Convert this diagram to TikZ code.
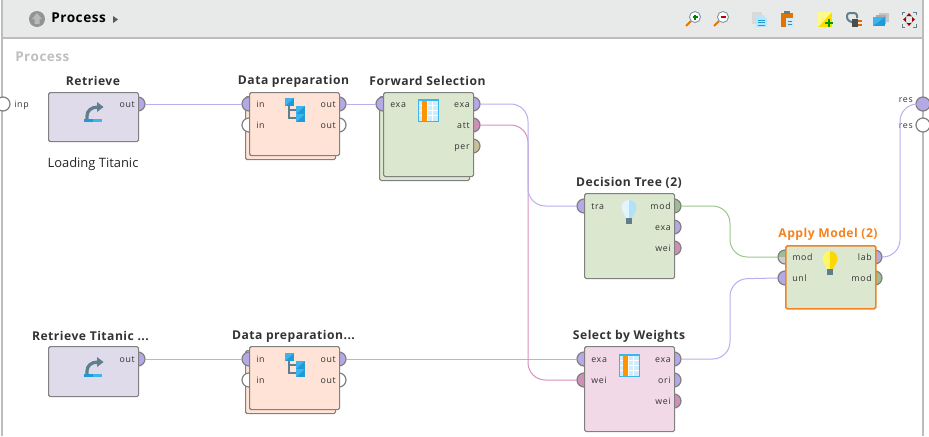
\documentclass[tikz,border=0pt]{standalone}
\usepackage{fontspec}
\setmainfont{Open Sans}
\newfontfamily\titlefont[LetterSpace=4]{Open Sans}
\newfontfamily\portfont[LetterSpace=8]{Open Sans}
\usetikzlibrary{arrows.meta}

\definecolor{barcol}{HTML}{E8EAEA}
\definecolor{framecol}{HTML}{BDBDBD}
\definecolor{edgecol}{HTML}{808080}
\definecolor{retrievecol}{HTML}{DFDBEA}
\definecolor{prepcol}{HTML}{FEE3D6}
\definecolor{modelcol}{HTML}{DBE8CF}
\definecolor{selectcol}{HTML}{F1D9E8}
\definecolor{exacol}{HTML}{B5A8E6}
\definecolor{weicol}{HTML}{D08FB9}
\definecolor{modcol}{HTML}{9DBD92}
\definecolor{percol}{HTML}{C8C09A}
\definecolor{exaline}{HTML}{B9AEEE}
\definecolor{weiline}{HTML}{D88FC0}
\definecolor{modline}{HTML}{9CC48F}
\definecolor{activecol}{HTML}{F58220}
\definecolor{iconblue}{HTML}{1E9AD6}
\definecolor{iconsky}{HTML}{3CB4EE}
\definecolor{icongray}{HTML}{5F7F8C}

% icons, drawn at the top left corner they are given
\newcommand{\retrieveicon}[2]{
  \begin{scope}[shift={(#1,#2)}]
    \fill[iconblue] (0,14) rectangle (9,17);
    \fill[iconsky] (9,14) rectangle (18,17);
    \draw[icongray, line width=2.4pt] (3,14) -- (3,11) .. controls (3,6) and (7,2) .. (14,2);
    \fill[icongray] (13,-3) -- (19.5,2) -- (13,7) -- cycle;
  \end{scope}
}
\newcommand{\treeicon}[2]{
  \begin{scope}[shift={(#1,#2)}]
    \draw[icongray, line width=0.9pt] (4,8) -- (4,20) -- (11,20) (4,12) -- (11,12);
    \fill[iconblue] (0,0) rectangle (9,8);
    \fill[iconblue] (11,8) rectangle (20,16);
    \fill[iconblue] (11,16) rectangle (20,24);
    \fill[iconsky] (0,0) -- (9,0) -- (0,8) -- cycle;
    \fill[iconsky] (11,8) -- (20,8) -- (11,16) -- cycle;
    \fill[iconsky] (11,16) -- (20,16) -- (11,24) -- cycle;
  \end{scope}
}
\newcommand{\tableicon}[2]{
  \begin{scope}[shift={(#1,#2)}]
    \fill[iconsky!25] (0,0) rectangle (20,22);
    \draw[white, line width=0.5pt] (0,6) -- (20,6) (0,11) -- (20,11) (0,16) -- (20,16) (9,0) -- (9,22) (14,0) -- (14,22);
    \fill[orange!85!yellow] (4,0) rectangle (9,22);
    \draw[iconsky, line width=0.6pt] (0,0) rectangle (20,22);
    \fill[iconsky] (0,0) rectangle (20,2);
  \end{scope}
}
\newcommand{\bulbicon}[4]{
  \begin{scope}[shift={(#1,#2)}]
    \fill[#3] (0,0) arc (-90:-270:7.5) -- cycle;
    \fill[#3] (-6.5,11) -- (-3,18) -- (0,18) -- (0,11) -- cycle;
    \fill[#4] (0,0) arc (-90:90:7.5) -- cycle;
    \fill[#4] (6.5,11) -- (3,18) -- (0,18) -- (0,11) -- cycle;
    \fill[icongray] (-3,18) rectangle (3,24);
  \end{scope}
}
\newcommand{\lensicon}[2]{
  \begin{scope}[shift={(#1,#2)}]
    \draw[orange!90!black, line width=1.5pt] (-4,4) -- (-9,9);
    \draw[icongray!80, fill=white, line width=0.7pt] (0,0) circle (5.5);
  \end{scope}
}

\begin{document}
\begin{tikzpicture}[
    x=0.75pt, y=-0.75pt,
    opbox/.style={draw=edgecol, line width=0.9pt, rounded corners=1.2pt, anchor=north west,
      inner sep=0pt, minimum width=90*0.75pt},
    port/.style={circle, draw=edgecol, line width=0.9pt, fill=white, inner sep=0pt, minimum size=14*0.75pt},
    optitle/.style={font=\titlefont\bfseries\fontsize{9.1pt}{10pt}\selectfont, text=black!80, inner sep=0pt},
    inlabel/.style={font=\portfont\fontsize{6.6pt}{8pt}\selectfont, text=black!80, anchor=west, inner sep=0pt,
      text height=5pt, text depth=0pt},
    outlabel/.style={font=\portfont\fontsize{6.6pt}{8pt}\selectfont, text=black!80, anchor=east, inner sep=0pt,
      text height=5pt, text depth=0pt},
    exaedge/.style={draw=exaline, line width=0.75pt, rounded corners=13pt},
    weiedge/.style={draw=weiline, line width=0.75pt, rounded corners=13pt},
    modedge/.style={draw=modline, line width=0.75pt, rounded corners=13pt}
  ]
  \useasboundingbox (0,0) rectangle (929,436);

  % toolbar and frame
  \fill[barcol] (2,0) rectangle (923,38);
  \draw[framecol, line width=0.9pt] (2,38) -- (923,38);
  \draw[framecol, line width=0.9pt] (2,0) -- (2,436);
  \draw[framecol, line width=0.9pt] (923,0) -- (923,436);
  \fill[gray!85] (37,19) circle (8);
  \fill[gray!55] (37,13) -- (42,19) -- (39.5,19) -- (39.5,24) -- (34.5,24) -- (34.5,19) -- (32,19) -- cycle;
  \node[optitle, anchor=west, text=black, font=\titlefont\bfseries\fontsize{10.2pt}{11pt}\selectfont] (barTitle) at (51,18) {Process};
  \fill[black!65] (113,16) -- (118,19.5) -- (113,23) -- cycle;
  \node[optitle, anchor=west, text=black!25, font=\titlefont\bfseries\fontsize{10.1pt}{11pt}\selectfont] (processTitle) at (15,57) {Process};

  % toolbar icons
  \lensicon{695}{17}
  \draw[green!50!black, line width=0.8pt] (692.5,17) -- (697.5,17) (695,14.5) -- (695,19.5);
  \lensicon{723}{17}
  \draw[red!75!black, line width=0.8pt] (720.5,17) -- (725.5,17);
  \fill[gray!30] (752,12) rectangle (762,24);
  \fill[iconsky!35] (756,15) -- (763,15) -- (767,19) -- (767,27) -- (756,27) -- cycle;
  \draw[iconblue, line width=0.5pt] (758,20) -- (765,20) (758,22.5) -- (765,22.5) (758,25) -- (765,25);
  \fill[orange!90!black] (781,13) rectangle (793,27);
  \fill[icongray] (784,11) rectangle (790,14);
  \fill[iconsky!25] (786,18) rectangle (794,27);
  \draw[icongray, line width=0.4pt] (788,21) -- (792,21) (788,24) -- (792,24);
  \fill[yellow!80!orange] (818,12) rectangle (832,27);
  \fill[yellow!45] (818,27) -- (832,12) -- (818,12) -- cycle;
  \draw[green!60!black, line width=1.4pt] (829,19) -- (829,27) (825,23) -- (833,23);
  \draw[icongray, line width=1.5pt, rounded corners=2pt] (854,23) -- (847,20) -- (847,13) -- (857,13) -- (857,18);
  \fill[black!70] (852,19) rectangle (858,27);
  \draw[orange!85!black, line width=1pt] (858,21) -- (862,21) (858,25) -- (862,25);
  \fill[gray!45] (879,13) rectangle (889,22);
  \fill[gray!65] (876,15) rectangle (886,24);
  \fill[iconblue] (873,17) rectangle (885,26);
  \fill[iconsky] (873,17) -- (885,17) -- (873,26) -- cycle;
  \draw[icongray, line width=0.6pt] (902,15) -- (902,12) -- (905,12) (913,12) -- (916,12) -- (916,15)
    (916,24) -- (916,27) -- (913,27) (905,27) -- (902,27) -- (902,24);
  \draw[icongray!50, line width=0.4pt] (909,19.5) circle (4);
  \fill[red!65!black] (909,13) -- (911.5,16) -- (906.5,16) -- cycle;
  \fill[red!65!black] (909,26) -- (911.5,23) -- (906.5,23) -- cycle;
  \fill[red!65!black] (903,19.5) -- (906,17) -- (906,22) -- cycle;
  \fill[red!65!black] (915,19.5) -- (912,17) -- (912,22) -- cycle;

  % process ports
  \node[port] (inp) at (3,104) {};
  \node[port, fill=exacol] (resA) at (923,104) {};
  \node[port] (resB) at (923,125) {};
  \node[inlabel] (inpLabel) at (14,104) {inp};
  \node[outlabel] (resALabel) at (913,99) {res};
  \node[outlabel] (resBLabel) at (913,125) {res};

  % Retrieve
  \node[port, fill=exacol] (retrieveOut) at (138,104) {};
  \node[opbox, fill=retrievecol, minimum height=49*0.75pt] (retrieve) at (48,92) {};
  \node[optitle] (retrieveTitle) at (93,81) {Retrieve};
  \node[outlabel] (retrieveOutLabel) at (135,104) {out};
  \retrieveicon{84}{105}
  \node[inner sep=0pt, font=\fontsize{9.7pt}{11pt}\selectfont, text=black!85] (retrieveNote) at (93,164) {Loading Titanic};

  % Data preparation
  \node[opbox, fill=prepcol, minimum height=63*0.75pt] (prepBack) at (245,96) {};
  \node[port, fill=exacol] (prepInA) at (249,104) {};
  \node[port] (prepInB) at (249,125) {};
  \node[port, fill=exacol] (prepOutA) at (339,104) {};
  \node[port] (prepOutB) at (339,125) {};
  \node[opbox, fill=prepcol, minimum height=63*0.75pt] (prep) at (249,92) {};
  \node[optitle] (prepTitle) at (293.5,81) {Data preparation};
  \node[inlabel] (prepInALabel) at (256,104) {in};
  \node[inlabel] (prepInBLabel) at (256,125) {in};
  \node[outlabel] (prepOutALabel) at (336,104) {out};
  \node[outlabel] (prepOutBLabel) at (336,125) {out};
  \treeicon{285}{98}

  % Forward Selection
  \node[opbox, fill=modelcol, minimum height=84*0.75pt] (forwardBack) at (379,96) {};
  \node[port, fill=exacol] (forwardIn) at (383,104) {};
  \node[port, fill=exacol] (forwardExa) at (473,104) {};
  \node[port, fill=weicol] (forwardAtt) at (473,125) {};
  \node[port, fill=percol] (forwardPer) at (473,146) {};
  \node[opbox, fill=modelcol, minimum height=84*0.75pt] (forward) at (383,92) {};
  \node[optitle] (forwardTitle) at (427.5,81) {Forward Selection};
  \node[inlabel] (forwardInLabel) at (390,104) {exa};
  \node[outlabel] (forwardExaLabel) at (470,104) {exa};
  \node[outlabel] (forwardAttLabel) at (470,125) {att};
  \node[outlabel] (forwardPerLabel) at (470,146) {per};
  \tableicon{418}{99}

  % Decision Tree
  \node[port, fill=exacol] (treeTra) at (584,206) {};
  \node[port, fill=modcol] (treeMod) at (674,206) {};
  \node[port, fill=exacol] (treeExa) at (674,227) {};
  \node[port, fill=weicol] (treeWei) at (674,248) {};
  \node[opbox, fill=modelcol, minimum height=85*0.75pt] (tree) at (584,193) {};
  \node[optitle] (treeTitle) at (629,183) {Decision Tree (2)};
  \node[inlabel] (treeTraLabel) at (591,206) {tra};
  \node[outlabel] (treeModLabel) at (671,206) {mod};
  \node[outlabel] (treeExaLabel) at (671,227) {exa};
  \node[outlabel] (treeWeiLabel) at (671,248) {wei};
  \bulbicon{629}{200}{iconsky!15}{iconsky!40}

  % Apply Model
  \node[port, fill=gray!40, path picture={\fill[modcol] (path picture bounding box.north west) rectangle (path picture bounding box.east);}] (applyMod) at (785,257) {};
  \node[port, fill=exacol] (applyUnl) at (785,278) {};
  \node[port, fill=exacol] (applyLab) at (875,257) {};
  \node[port, fill=modcol] (applyOut) at (875,278) {};
  \node[opbox, fill=modelcol, draw=activecol, line width=1.2pt, minimum height=63*0.75pt] (apply) at (785,245) {};
  \node[optitle, text=activecol] (applyTitle) at (828,234) {Apply Model (2)};
  \node[inlabel] (applyModLabel) at (792,257) {mod};
  \node[inlabel] (applyUnlLabel) at (792,278) {unl};
  \node[outlabel] (applyLabLabel) at (872,257) {lab};
  \node[outlabel] (applyOutLabel) at (872,278) {mod};
  \bulbicon{830}{251}{yellow!60}{yellow!75!orange}

  % Retrieve Titanic
  \node[port, fill=exacol] (titanicOut) at (138,359) {};
  \node[opbox, fill=retrievecol, minimum height=50*0.75pt] (titanic) at (48,346) {};
  \node[optitle] (titanicTitle) at (90.5,336) {Retrieve Titanic ...};
  \node[outlabel] (titanicOutLabel) at (135,359) {out};
  \retrieveicon{84}{360}

  % Data preparation, second one
  \node[opbox, fill=prepcol, minimum height=63*0.75pt] (prepTwoBack) at (245,350) {};
  \node[port, fill=exacol] (prepTwoInA) at (249,359) {};
  \node[port] (prepTwoInB) at (249,380) {};
  \node[port, fill=exacol] (prepTwoOutA) at (339,359) {};
  \node[port] (prepTwoOutB) at (339,380) {};
  \node[opbox, fill=prepcol, minimum height=63*0.75pt] (prepTwo) at (249,346) {};
  \node[optitle] (prepTwoTitle) at (293.5,336) {Data preparation...};
  \node[inlabel] (prepTwoInALabel) at (256,359) {in};
  \node[inlabel] (prepTwoInBLabel) at (256,380) {in};
  \node[outlabel] (prepTwoOutALabel) at (336,359) {out};
  \node[outlabel] (prepTwoOutBLabel) at (336,380) {out};
  \treeicon{285}{353}

  % Select by Weights
  \node[port, fill=exacol] (selectIn) at (584,359) {};
  \node[port, fill=weicol] (selectWeiIn) at (584,380) {};
  \node[port, fill=exacol] (selectExa) at (674,359) {};
  \node[port, fill=exacol] (selectOri) at (674,380) {};
  \node[port, fill=weicol] (selectWei) at (674,401) {};
  \node[opbox, fill=selectcol, minimum height=85*0.75pt] (select) at (584,346) {};
  \node[optitle] (selectTitle) at (629,336) {Select by Weights};
  \node[inlabel] (selectInLabel) at (591,359) {exa};
  \node[inlabel] (selectWeiInLabel) at (591,380) {wei};
  \node[outlabel] (selectExaLabel) at (671,359) {exa};
  \node[outlabel] (selectOriLabel) at (671,380) {ori};
  \node[outlabel] (selectWeiLabel) at (671,401) {wei};
  \tableicon{619}{354}

  % connections
  \draw[exaedge] (retrieveOut.east) -- (prepInA.west);
  \draw[exaedge] (prepOutA.east) -- (forwardIn.west);
  \draw[exaedge] (titanicOut.east) -- (prepTwoInA.west);
  \draw[exaedge] (prepTwoOutA.east) -- (selectIn.west);
  \draw[weiedge] (forwardAtt.east) -- (528,125) -- (528,380) -- (selectWeiIn.west);
  \draw[exaedge] (forwardExa.east) -- (528,104) -- (528,206) -- (treeTra.west);
  \draw[modedge] (treeMod.east) -- (730,206) -- (730,257) -- (applyMod.west);
  \draw[exaedge] (selectExa.east) -- (730,359) -- (730,279) -- (applyUnl.west);
  \draw[exaedge] (applyLab.east) -- (900,257) -- (900,104) -- (resA.west);
\end{tikzpicture}
\end{document}
